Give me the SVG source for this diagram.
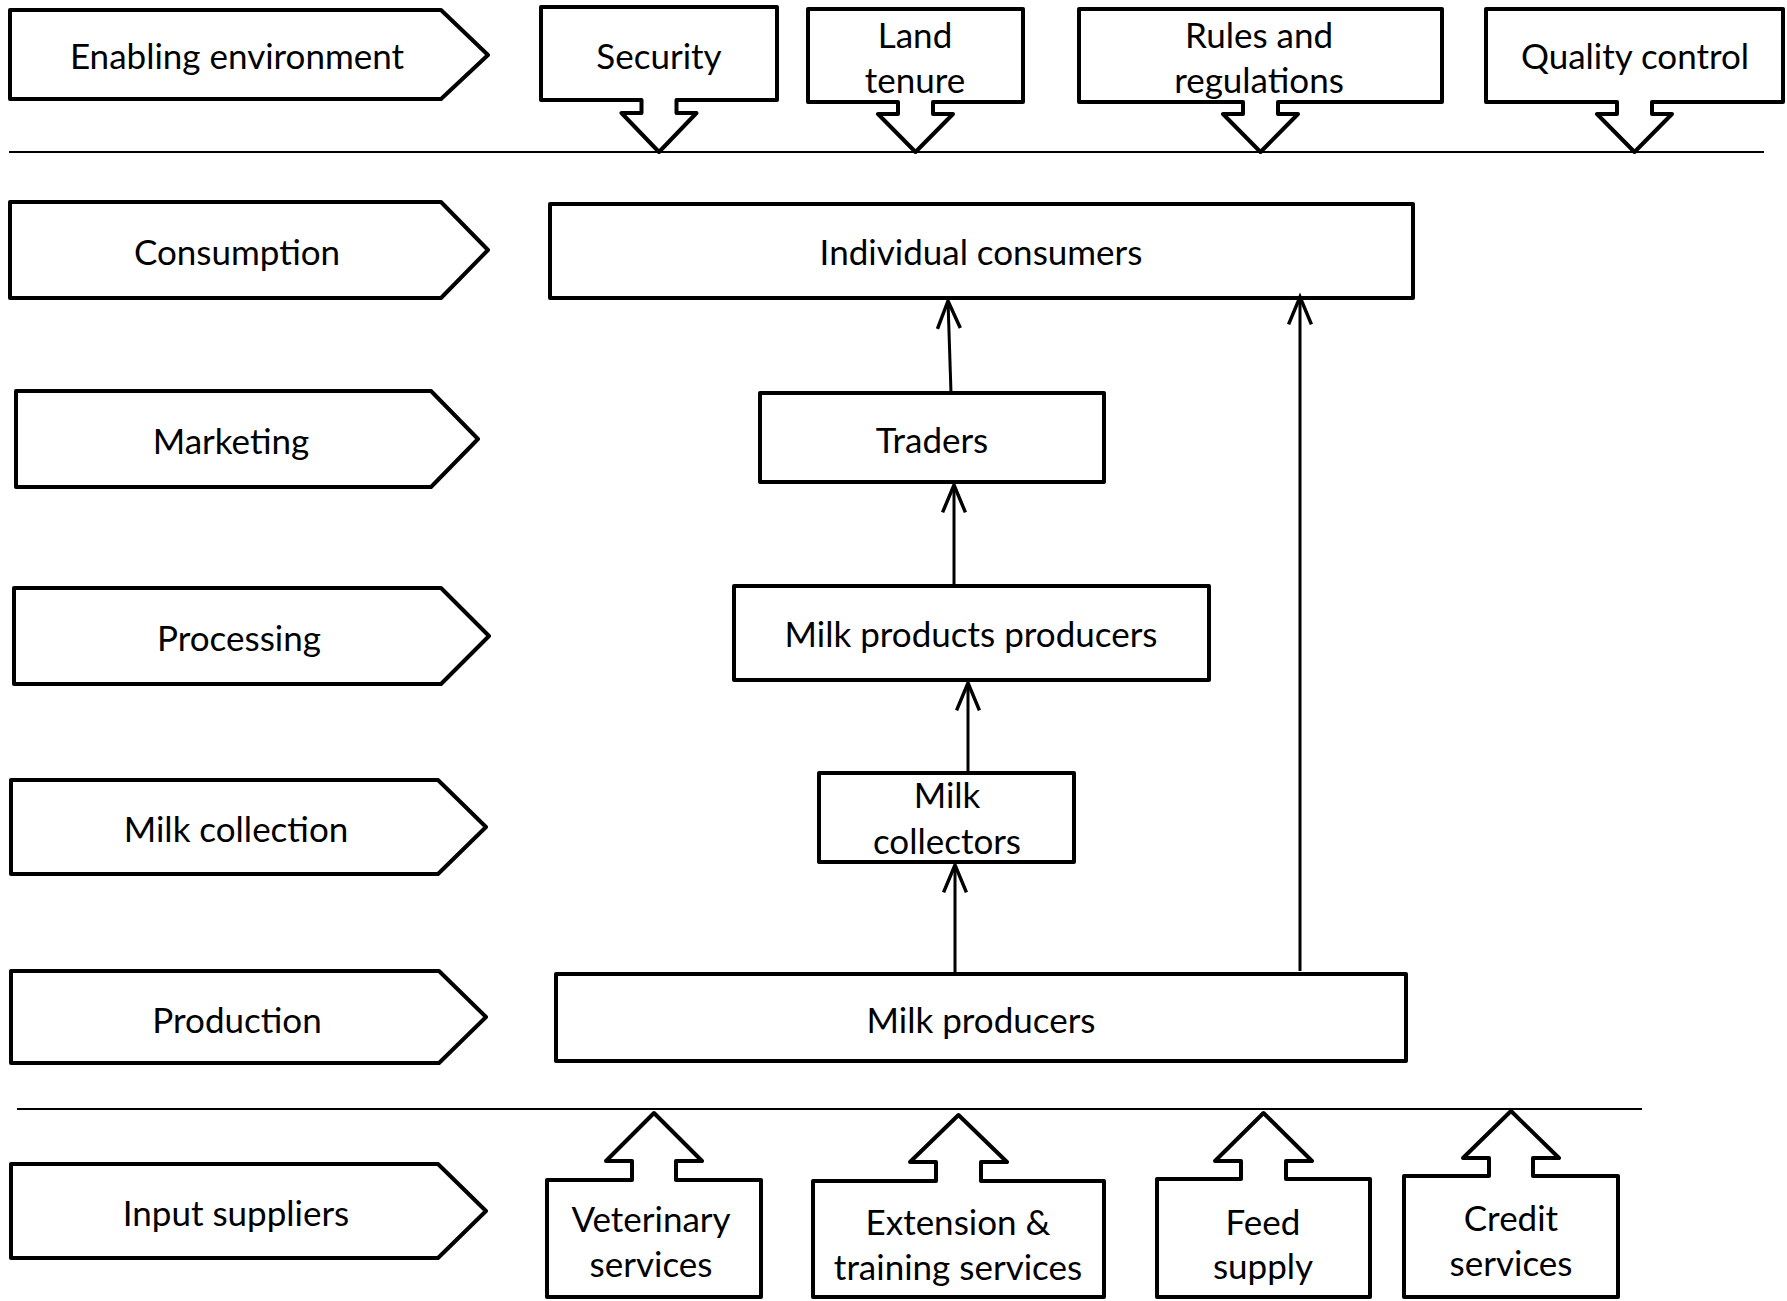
<svg xmlns="http://www.w3.org/2000/svg" width="1787" height="1301" viewBox="0 0 1787 1301">
<style>
.box{fill:#fff;stroke:#000;stroke-width:4;stroke-linejoin:round}
.t{font-family:Lato,"Open Sans","Liberation Sans",sans-serif;font-size:35px;fill:#000;text-anchor:middle}
.sep{stroke:#000;stroke-width:2;fill:none}
.con{stroke:#000;stroke-width:3;fill:none}
</style>
<defs>
<marker id="ah" markerUnits="userSpaceOnUse" markerWidth="40" markerHeight="40" viewBox="-30 -15 35 30" refX="0" refY="0" orient="auto">
<path d="M-24,-10 L0,0 L-24,10" fill="none" stroke="#000" stroke-width="3" stroke-linejoin="miter"/>
</marker>
</defs>
<rect width="1787" height="1301" fill="#fff"/>
<g id="separators">
<line class="sep" x1="9" y1="152" x2="1764" y2="152"/>
<line class="sep" x1="17" y1="1109" x2="1642" y2="1109"/>
</g>
<g id="stage-enabling"><path class="box" d="M10,10 H441 L488,55 L441,99 H10 Z"/><text class="t" x="237" y="69">Enabling environment</text></g>
<g id="security"><path class="box" d="M541,7 H777 V100 H676.5 V113 H696.5 L659,152 L621.5,113 H641.5 V100 H541 Z"/><text class="t" x="659" y="69">Security</text></g>
<g id="land-tenure"><path class="box" d="M808,9 H1023 V102 H933 V114 H953 L915.5,152 L878,114 H898 V102 H808 Z"/><text class="t" x="915" y="48">Land</text><text class="t" x="915" y="93">tenure</text></g>
<g id="rules"><path class="box" d="M1079,9 H1442 V102 H1278 V114 H1298 L1260.5,152 L1223,114 H1243 V102 H1079 Z"/><text class="t" x="1259" y="48">Rules and</text><text class="t" x="1259" y="93">regulations</text></g>
<g id="quality"><path class="box" d="M1486,9 H1783 V102 H1652 V114 H1672 L1634.5,152 L1597,114 H1617 V102 H1486 Z"/><text class="t" x="1635" y="69">Quality control</text></g>

<g id="stage-consumption"><path class="box" d="M10,202 H441 L488,250 L441,298 H10 Z"/><text class="t" x="237" y="265">Consumption</text></g>
<g id="individual-consumers"><rect class="box" x="550" y="204" width="863" height="94"/><text class="t" x="981" y="265">Individual consumers</text></g>
<g id="stage-marketing"><path class="box" d="M16,391 H431 L478,439 L431,487 H16 Z"/><text class="t" x="231" y="454">Marketing</text></g>
<g id="traders"><rect class="box" x="760" y="393" width="344" height="89"/><text class="t" x="932" y="453">Traders</text></g>
<g id="stage-processing"><path class="box" d="M14,588 H441 L489,636 L441,684 H14 Z"/><text class="t" x="239" y="651">Processing</text></g>
<g id="milk-products-producers"><rect class="box" x="734" y="586" width="475" height="94"/><text class="t" x="971" y="647">Milk products producers</text></g>
<g id="stage-collection"><path class="box" d="M11,780 H438 L486,827 L438,874 H11 Z"/><text class="t" x="236" y="842">Milk collection</text></g>
<g id="milk-collectors"><rect class="box" x="819" y="773" width="255" height="89"/><text class="t" x="947" y="808">Milk</text><text class="t" x="947" y="854">collectors</text></g>
<g id="stage-production"><path class="box" d="M11,971 H439 L486,1017 L439,1063 H11 Z"/><text class="t" x="237" y="1033">Production</text></g>
<g id="milk-producers"><rect class="box" x="556" y="974" width="850" height="87"/><text class="t" x="981" y="1033">Milk producers</text></g>

<g id="stage-input"><path class="box" d="M11,1164 H438 L486,1211 L438,1258 H11 Z"/><text class="t" x="236" y="1226">Input suppliers</text></g>
<g id="veterinary"><path class="box" d="M547,1297 V1180 H632 V1161 H606 L654,1113 L702,1161 H676 V1180 H761 V1297 Z"/><text class="t" x="651" y="1232">Veterinary</text><text class="t" x="651" y="1277">services</text></g>
<g id="extension"><path class="box" d="M813,1297 V1181 H936 V1162 H910 L958.5,1115 L1007,1162 H981 V1181 H1104 V1297 Z"/><text class="t" x="958" y="1235">Extension &amp;</text><text class="t" x="958" y="1280">training services</text></g>
<g id="feed"><path class="box" d="M1157,1297 V1179 H1241 V1161 H1215 L1263.5,1113 L1312,1161 H1286 V1179 H1370 V1297 Z"/><text class="t" x="1263" y="1235">Feed</text><text class="t" x="1263" y="1279">supply</text></g>
<g id="credit"><path class="box" d="M1404,1297 V1176 H1489 V1158 H1463 L1511,1111 L1559,1158 H1533 V1176 H1618 V1297 Z"/><text class="t" x="1511" y="1231">Credit</text><text class="t" x="1511" y="1276">services</text></g>

<g id="connectors">
<line class="con" x1="951" y1="393" x2="948" y2="301" marker-end="url(#ah)"/>
<line class="con" x1="954" y1="586" x2="954" y2="485" marker-end="url(#ah)"/>
<line class="con" x1="968" y1="775" x2="968" y2="683" marker-end="url(#ah)"/>
<line class="con" x1="955" y1="973" x2="955" y2="865" marker-end="url(#ah)"/>
<line class="con" x1="1300" y1="971" x2="1300" y2="297" marker-end="url(#ah)"/>
</g>
</svg>
